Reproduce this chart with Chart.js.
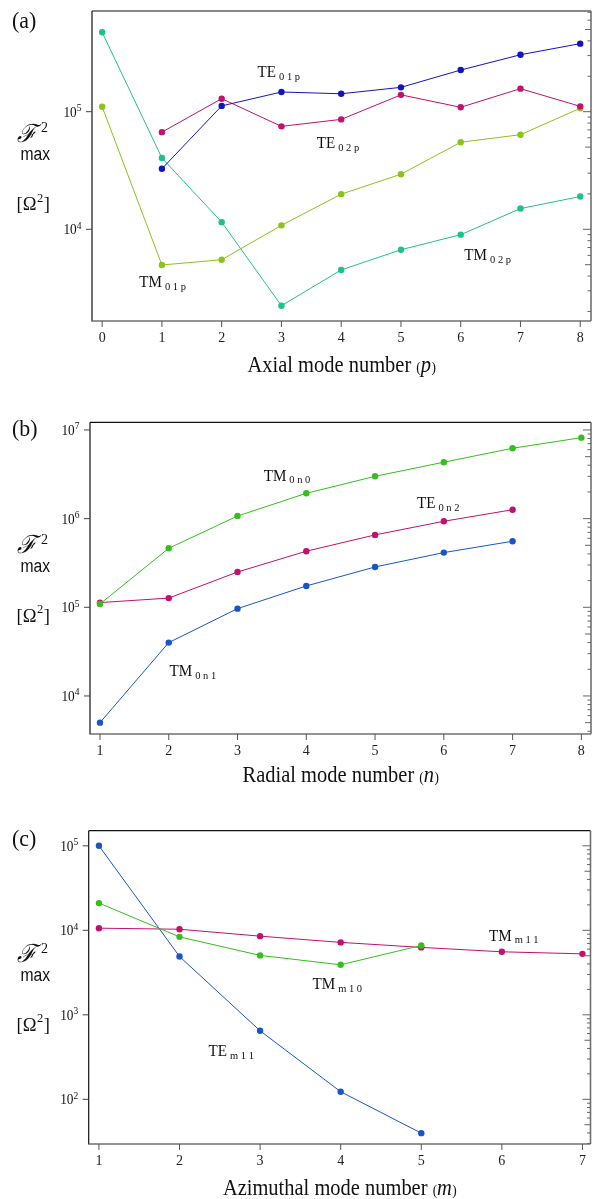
<!DOCTYPE html>
<html>
<head>
<meta charset="utf-8">
<script src="https://cdn.jsdelivr.net/npm/chart.js@4.4.1/dist/chart.umd.min.js"></script>
<style>
  body { margin: 0; background: #fff; }
  .panel { position: absolute; left: 0; width: 595px; }
  canvas { display: block; }
</style>
</head>
<body>
<div class="panel" style="top:0px"><canvas id="panelA" width="595" height="385"></canvas></div>
<div class="panel" style="top:385px"><canvas id="panelB" width="595" height="405"></canvas></div>
<div class="panel" style="top:790px"><canvas id="panelC" width="595" height="409"></canvas></div>
<script>
// (a) axial mode number p
const axialP = [0, 1, 2, 3, 4, 5, 6, 7, 8];
const te01p = [null, 3.27e4, 1.12e5, 1.47e5, 1.42e5, 1.61e5, 2.26e5, 3.05e5, 3.79e5];
const te02p = [null, 6.7e4, 1.29e5, 7.5e4, 8.6e4, 1.39e5, 1.09e5, 1.57e5, 1.11e5];
const tm01p = [1.10e5, 4970, 5510, 1.08e4, 1.99e4, 2.94e4, 5.5e4, 6.37e4, 1.07e5];
const tm02p = [4.73e5, 4.04e4, 1.15e4, 2240, 4510, 6700, 9000, 1.50e4, 1.90e4];

// (b) radial mode number n
const radialN = [1, 2, 3, 4, 5, 6, 7, 8];
const tm0n0 = [1.09e5, 4.63e5, 1.07e6, 1.93e6, 3.0e6, 4.33e6, 6.22e6, 8.19e6];
const te0n2 = [1.13e5, 1.27e5, 2.5e5, 4.29e5, 6.55e5, 9.34e5, 1.26e6, null];
const tm0n1 = [5.0e3, 4.0e4, 9.66e4, 1.74e5, 2.85e5, 4.14e5, 5.56e5, null];

// (c) azimuthal mode number m
const azimM = [1, 2, 3, 4, 5, 6, 7];
const tem11 = [1.0e5, 4.9e3, 647, 123, 39.8, null, null];
const tmm10 = [2.1e4, 8.37e3, 5.05e3, 3.91e3, 6.62e3, null, null];
const tmm11 = [1.06e4, 1.03e4, 8.53e3, 7.2e3, 6.28e3, 5.57e3, 5.27e3];

// curve labels, placed in data coordinates
const axialNotes = [
  { main: 'TE', sub: '0 1 p', x: 2.6, y: 1.97e5 },
  { main: 'TE', sub: '0 2 p', x: 3.59, y: 4.91e4 },
  { main: 'TM', sub: '0 1 p', x: 0.62, y: 3230 },
  { main: 'TM', sub: '0 2 p', x: 6.06, y: 5480 }
];
const radialNotes = [
  { main: 'TM', sub: '0 n 0', x: 3.38, y: 2.68e6 },
  { main: 'TE', sub: '0 n 2', x: 5.61, y: 1.31e6 },
  { main: 'TM', sub: '0 n 1', x: 2.01, y: 1.66e4 }
];
const azimNotes = [
  { main: 'TE', sub: 'm 1 1', x: 2.36, y: 324 },
  { main: 'TM', sub: 'm 1 0', x: 3.65, y: 1995 },
  { main: 'TM', sub: 'm 1 1', x: 5.84, y: 7520 }
];

const SERIF = '"Liberation Serif", "Times New Roman", serif';
const SANS = '"Liberation Sans", Arial, sans-serif';
const SQ = 0.89;   // the typeset text is a little narrow

function squeezed(ctx, str, x, y, font, sx = SQ) {
  ctx.save();
  ctx.font = font;
  ctx.translate(x, y);
  ctx.scale(sx, 1);
  ctx.fillText(str, 0, 0);
  const w = ctx.measureText(str).width * sx;
  ctx.restore();
  return w;
}
function textWidth(ctx, str, font, sx = SQ) {
  ctx.save(); ctx.font = font;
  const w = ctx.measureText(str).width * sx;
  ctx.restore();
  return w;
}
function seg(ctx, x1, y1, x2, y2) {
  ctx.beginPath(); ctx.moveTo(x1, y1); ctx.lineTo(x2, y2); ctx.stroke();
}
const SUP = { '2': '²', '3': '³', '4': '⁴', '5': '⁵', '6': '⁶', '7': '⁷' };

const framePlugin = {
  id: 'frame',
  afterDraw(chart, args, opts) {
    const { ctx, chartArea: a, scales: { x, y } } = chart;
    ctx.save();
    ctx.fillStyle = '#111';
    ctx.textBaseline = 'alphabetic';
    ctx.textAlign = 'left';

    // box
    ctx.lineWidth = 1.2; ctx.strokeStyle = '#111';
    seg(ctx, a.left, a.top, a.right, a.top);
    seg(ctx, a.left, a.top, a.left, a.bottom + 0.6);
    ctx.lineWidth = 1.6; ctx.strokeStyle = '#707070';
    seg(ctx, a.left, a.bottom, a.right, a.bottom);
    seg(ctx, a.right, a.top, a.right, a.bottom);

    // x tick marks
    ctx.lineWidth = 1; ctx.strokeStyle = '#555';
    x.ticks.forEach(t => {
      const px = x.getPixelForValue(t.value);
      seg(ctx, px, a.bottom, px, a.bottom + 6);
    });

    // log ticks: left major outward with labels, right major and minor inward
    const lo = Math.floor(Math.log10(y.min)), hi = Math.ceil(Math.log10(y.max));
    for (let e = lo; e <= hi; e++) {
      for (let k = 1; k < 10; k++) {
        const v = k * Math.pow(10, e);
        if (v < y.min || v > y.max) continue;
        const py = y.getPixelForValue(v);
        const len = k === 1 ? 8 : k === 5 ? 6 : 3.5;
        ctx.strokeStyle = '#666';
        seg(ctx, a.right - len, py, a.right, py);
        if (k === 1) {
          ctx.strokeStyle = '#444';
          seg(ctx, a.left - 6, py, a.left, py);
          const supFont = '9.5px ' + SERIF, baseFont = '14px ' + SERIF;
          const sw = textWidth(ctx, String(e), supFont, 1);
          const bw = textWidth(ctx, '10', baseFont, 0.95);
          const end = a.left - 10.5;
          squeezed(ctx, '10', end - sw - bw, py + 5, baseFont, 0.95);
          squeezed(ctx, String(e), end - sw, py - 0.5, supFont, 1);
        }
      }
    }

    // curve labels
    opts.notes.forEach(n => {
      const px = x.getPixelForValue(n.x), py = y.getPixelForValue(n.y);
      const w = squeezed(ctx, n.main, px, py, '17px ' + SERIF);
      squeezed(ctx, n.sub, px + w + 3, py + 2.5, '10.5px ' + SERIF, 1);
    });

    // panel letter
    squeezed(ctx, opts.letter, 12, opts.letterY, '23px ' + SERIF, 0.95);

    // y-axis title
    const fy = opts.titleY;
    squeezed(ctx, 'ℱ', 17, fy, 'italic 25px "DejaVu Serif", serif', 0.95);
    squeezed(ctx, '2', 41, fy - 9.5, '14px ' + SERIF, 1);
    squeezed(ctx, 'max', 20.5, fy + 18.5, '18px ' + SANS, 0.87);
    let ox = 16.5;
    ox += squeezed(ctx, '[Ω', ox, fy + 68.5, '19.5px ' + SERIF, 0.95);
    ox += squeezed(ctx, '2', ox + 0.5, fy + 60, '12.5px ' + SERIF, 1) + 1;
    squeezed(ctx, ']', ox, fy + 68.5, '19.5px ' + SERIF, 0.95);

    // x-axis title
    const mainFont = '23px ' + SERIF, parFont = '15px ' + SERIF, varFont = 'italic 23px ' + SERIF;
    const t1 = opts.xTitle + ' ';
    const total = textWidth(ctx, t1, mainFont) + textWidth(ctx, '(', parFont) +
      textWidth(ctx, opts.xVar, varFont) + textWidth(ctx, ')', parFont);
    let tx = (a.left + a.right) / 2 - total / 2;
    const ty = opts.xTitleY;
    tx += squeezed(ctx, t1, tx, ty, mainFont);
    tx += squeezed(ctx, '(', tx, ty, parFont);
    tx += squeezed(ctx, opts.xVar, tx, ty, varFont) + 0.5;
    squeezed(ctx, ')', tx, ty, parFont);
    ctx.restore();
  }
};

function series(xs, ys, color) {
  const pts = [];
  xs.forEach((v, i) => { if (ys[i] != null) pts.push({ x: v, y: ys[i] }); });
  return {
    data: pts,
    borderColor: color,
    backgroundColor: color,
    borderWidth: 1,
    pointRadius: 3.2,
    pointBorderWidth: 0,
    tension: 0
  };
}

function makePanel(id, box, xs, xRange, yRange, datasets, frameOpts) {
  const cv = document.getElementById(id);
  return new Chart(cv.getContext('2d'), {
    type: 'line',
    data: { datasets },
    options: {
      responsive: false,
      animation: false,
      layout: { padding: { top: box.top, right: 595 - box.right, left: 0, bottom: 0 } },
      plugins: { legend: { display: false }, tooltip: { enabled: false }, frame: frameOpts },
      scales: {
        x: {
          type: 'linear',
          min: xRange[0], max: xRange[1],
          afterBuildTicks: s => { s.ticks = xs.map(v => ({ value: v })); },
          afterFit: s => { s.height = cv.height - box.bottom; },
          grid: { display: false, drawTicks: false },
          border: { display: false },
          ticks: { padding: 9, color: '#222', font: { family: SERIF, size: 14 }, maxRotation: 0 }
        },
        y: {
          type: 'logarithmic',
          min: yRange[0], max: yRange[1],
          afterFit: s => { s.width = box.left; },
          grid: { display: false, drawTicks: false },
          border: { display: false },
          ticks: { display: false }
        }
      }
    },
    plugins: [framePlugin]
  });
}

makePanel('panelA', { left: 92, top: 11, right: 593, bottom: 321 }, axialP, [-0.17, 8.18], [1660, 7.18e5], [
  series(axialP, te01p, '#1414bf'),
  series(axialP, te02p, '#c2106e'),
  series(axialP, tm01p, '#8bc31c'),
  series(axialP, tm02p, '#20c08e')
], { notes: axialNotes, letter: '(a)', letterY: 27.5, titleY: 141.7, xTitle: 'Axial mode number', xVar: 'p', xTitleY: 371.5 });

makePanel('panelB', { left: 90, top: 37.3, right: 594, bottom: 349 }, radialN, [0.855, 8.14], [3724, 1.22e7], [
  series(radialN, tm0n0, '#35bf1c'),
  series(radialN, te0n2, '#c2106e'),
  series(radialN, tm0n1, '#1a55c8')
], { notes: radialNotes, letter: '(b)', letterY: 50.5, titleY: 168.3, xTitle: 'Radial mode number', xVar: 'n', xTitleY: 397 });

makePanel('panelC', { left: 88.7, top: 40.7, right: 594, bottom: 354 }, azimM, [0.873, 7.1], [29.6, 1.51e5], [
  series(azimM, tmm10, '#35bf1c'),
  series(azimM, tmm11, '#c2106e'),
  series(azimM, tem11, '#1a55c8')
], { notes: azimNotes, letter: '(c)', letterY: 55.5, titleY: 172.3, xTitle: 'Azimuthal mode number', xVar: 'm', xTitleY: 404.5 });
</script>
</body>
</html>
